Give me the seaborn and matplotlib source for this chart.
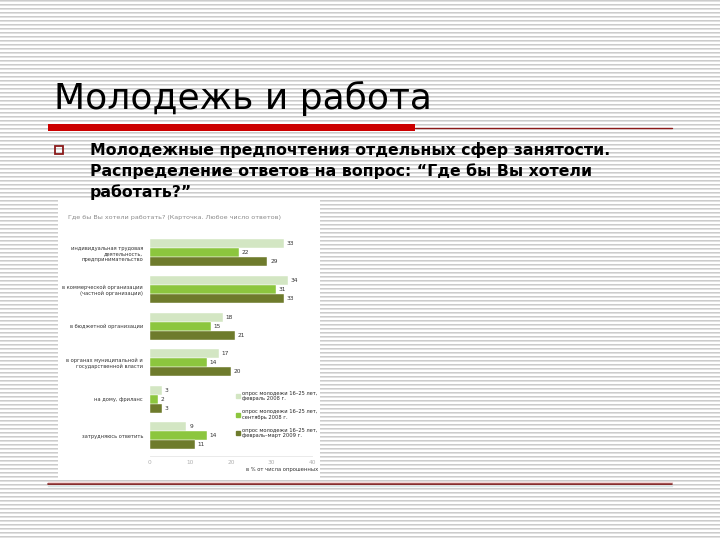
import numpy as np
import pandas as pd
import seaborn as sns
import matplotlib.pyplot as plt
from matplotlib.patches import Rectangle
from matplotlib.lines import Line2D

# --- data ---
CATEGORIES = [
    "индивидуальная трудовая\nдеятельность,\nпредпринимательство",
    "в коммерческой организации\n(частной организации)",
    "в бюджетной организации",
    "в органах муниципальной и\nгосударственной власти",
    "на дому, фриланс",
    "затрудняюсь ответить",
]
SURVEYS = [
    "опрос молодежи 16–25 лет,\nфевраль 2008 г.",
    "опрос молодежи 16–25 лет,\nсентябрь 2008 г.",
    "опрос молодежи 16–25 лет,\nфевраль–март 2009 г.",
]
FEB_2008 = [33, 34, 18, 17, 3, 9]
SEP_2008 = [22, 31, 15, 14, 2, 14]
FEB_MAR_2009 = [29, 33, 21, 20, 3, 11]
X_TICKS = [0, 10, 20, 30, 40]

COLORS = ["#d3e6c3", "#8cc63e", "#6e7b2c"]

SLIDE_TITLE = "Молодежь и работа"
BULLET_TEXT = ("Молодежные предпочтения отдельных сфер занятости.\n"
               "Распределение ответов на вопрос: “Где бы Вы хотели\n"
               "работать?”")
CHART_TITLE = "Где бы Вы хотели работать? (Карточка. Любое число ответов)"
X_LABEL = "в % от числа опрошенных"

df = pd.DataFrame({
    "category": CATEGORIES * 3,
    "survey": [SURVEYS[0]] * 6 + [SURVEYS[1]] * 6 + [SURVEYS[2]] * 6,
    "value": FEB_2008 + SEP_2008 + FEB_MAR_2009,
})

sns.set_theme(style="white")
plt.rcParams["font.family"] = ["DejaVu Sans"]

W, H = 720, 540
fig = plt.figure(figsize=(7.2, 5.4), dpi=100)

# striped slide background
bg = fig.add_axes([0, 0, 1, 1])
rows = np.ones((H, 1))
rows[0::4] = 0.80
rows[1::4] = 0.88
bg.imshow(rows, cmap="gray", vmin=0, vmax=1, aspect="auto",
          interpolation="nearest", extent=[0, W, H, 0])
bg.set_xlim(0, W)
bg.set_ylim(H, 0)
bg.axis("off")

# title and decorative rules
bg.text(54, 109, SLIDE_TITLE, fontsize=26, color="black", va="baseline")
bg.add_patch(Rectangle((48, 124), 367, 7, color="#cc0000", lw=0))
bg.plot([415, 672], [127.5, 127.5], color="#8b1a1a", lw=1)
bg.plot([48, 672], [483.5, 483.5], color="#7a1010", lw=1.2)
bg.plot([48, 672], [481.5, 481.5], color="#f3d6d6", lw=1)
bg.plot([48, 672], [486, 486], color="#d8e6e6", lw=1)

# bullet
bg.add_patch(Rectangle((54.5, 145.5), 8, 8, fill=False, ec="#8b1a1a", lw=1.3))
bg.text(90, 142, BULLET_TEXT, fontsize=11.3, fontweight="bold", va="top",
        linespacing=1.42, color="black")

# white chart panel
bg.add_patch(Rectangle((58, 200), 262, 278, color="white", lw=0))
bg.text(68, 218, CHART_TITLE, fontsize=4.6, color="#8a8a8a", va="center")

# the bar chart itself
ax = fig.add_axes([150 / W, 1 - 456 / H, 162 / W, 225 / H])
sns.barplot(data=df, y="category", x="value", hue="survey", orient="h",
            palette=COLORS, width=0.74, edgecolor="white", linewidth=0.3,
            saturation=1, ax=ax)
ax.set_xlim(0, 40)
ax.set_ylim(5.55, -0.6)
ax.set_xticks(X_TICKS)
ax.tick_params(axis="x", labelsize=4.2, colors="#b0b0b0", length=0, pad=3)
ax.tick_params(axis="y", labelsize=3.7, colors="#333333", length=0, pad=5)
for lbl in ax.get_yticklabels():
    lbl.set_multialignment("right")
ax.set_xlabel("")
ax.set_ylabel("")
ax.patch.set_alpha(0)
for side in ["top", "right", "left"]:
    ax.spines[side].set_visible(False)
ax.spines["bottom"].set_color("#e6e6e6")
ax.spines["bottom"].set_linewidth(0.6)

for cont in ax.containers:
    ax.bar_label(cont, padding=2, fontsize=4.2, color="#333333")

ax.get_legend().remove()
handles = [Line2D([], [], marker="s", ls="", markersize=3.2,
                  markerfacecolor=c, markeredgecolor=c) for c in COLORS]
fig.legend(handles, SURVEYS, loc="upper left",
           bbox_to_anchor=(234 / W, 1 - 388 / H), frameon=False,
           fontsize=3.7, handlelength=0.6, handletextpad=0.5,
           labelspacing=1.5, borderpad=0)

fig.text(318 / W, 1 - 469 / H, X_LABEL, fontsize=3.8, color="#333333",
         ha="right", va="center")

fig.savefig("out.png", dpi=100)
